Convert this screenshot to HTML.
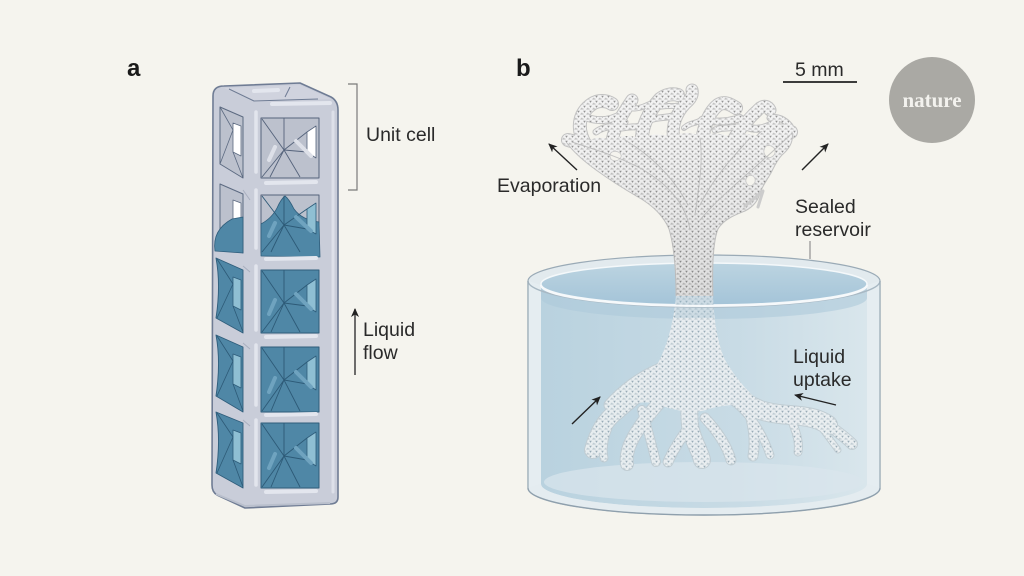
<!DOCTYPE html>
<html><head><meta charset="utf-8"><style>
html,body{margin:0;padding:0;background:#f5f4ee;}
svg{display:block;}
text{font-family:"Liberation Sans",sans-serif;fill:#2a2a2a;}
</style></head><body>
<svg width="1024" height="576" viewBox="0 0 1024 576" xmlns="http://www.w3.org/2000/svg">
<defs>
<pattern id="lat" width="6" height="5" patternUnits="userSpaceOnUse">
<rect width="6" height="5" fill="#f2f2f2"/>
<polygon points="1.2,0.8 3.8,0.8 2.5,2.9" fill="#939393"/>
<polygon points="4.2,4.5 5.5,2.4 6,4.5" fill="#b2b2b2"/>
<polygon points="0,4.5 0.8,2.8 1.7,4.5" fill="#b2b2b2"/>
</pattern>
<pattern id="latb" width="6" height="5" patternUnits="userSpaceOnUse">
<rect width="6" height="5" fill="#ebeff1"/>
<polygon points="1.2,0.8 3.8,0.8 2.5,2.9" fill="#95a8b3"/>
<polygon points="4.2,4.5 5.5,2.4 6,4.5" fill="#b2c0c8"/>
<polygon points="0,4.5 0.8,2.8 1.7,4.5" fill="#b2c0c8"/>
</pattern>
<linearGradient id="water" x1="0" y1="0" x2="1" y2="0">
<stop offset="0" stop-color="#b9d2df"/><stop offset="0.6" stop-color="#c8dbe5"/><stop offset="1" stop-color="#d9e6ec"/>
</linearGradient>
<linearGradient id="surf" x1="0" y1="0" x2="0" y2="1">
<stop offset="0" stop-color="#bcd4e1"/><stop offset="1" stop-color="#a4c4d8"/>
</linearGradient>
<linearGradient id="shade" x1="0" y1="0" x2="0" y2="1">
<stop offset="0" stop-color="#000" stop-opacity="0"/><stop offset="0.5" stop-color="#000" stop-opacity="0.04"/><stop offset="1" stop-color="#000" stop-opacity="0.09"/>
</linearGradient>
<marker id="ah" markerWidth="10" markerHeight="10" refX="8" refY="5" orient="auto" markerUnits="userSpaceOnUse">
<path d="M0,1 L9,5 L0,9 L2.5,5 Z" fill="#222"/>
</marker>
</defs>

<text x="127" y="76" style="font-size:24px;font-weight:bold;fill:#1a1a1a">a</text>
<text x="516" y="76" style="font-size:24px;font-weight:bold;fill:#1a1a1a">b</text>

<!-- ================= COLUMN ================= -->
<g stroke-linejoin="round">
<path d="M213,96 Q213,86 224,86 L300,83 L331,97 Q338,101 338,110 L338,497 Q338,504 330,504 L245,508 L217,495 Q212,492 212,485 Z" fill="#c9cdd9" stroke="#6f7c94" stroke-width="1.6"/>
<polygon points="224,88 300,85 331,99 255,102" fill="#d0d3de"/>
<path d="M229,89 L254,101 L318,99 M290,87 L285,97" stroke="#6f7c94" stroke-width="1" fill="none"/>
<path d="M254,91 L278,90 M272,104 L330,103" stroke="#e3e6ee" stroke-width="4" stroke-linecap="round"/>
<path d="M256,112 L256,172 M256,190 L256,248 M256,266 L256,330 M256,345 L256,405 M256,420 L256,485" stroke="#e2e5ed" stroke-width="3.5" stroke-linecap="round"/>
<path d="M333,112 L333,492" stroke="#dde0e9" stroke-width="3" stroke-linecap="round"/>
<path d="M243,190 L250,200 M243,266 L250,272 M243,343 L250,349 M243,420 L250,426" stroke="#a9afbf" stroke-width="1"/>

<g>
<polygon points="220,107 243,117 243,178 220,164" fill="#bcc1cd" stroke="#5c6a81" stroke-width="1"/>
<polygon points="233,123 241,126 241,156 233,152" fill="#ffffff" stroke="#5c6a81" stroke-width="0.8"/>
<path d="M220,107 L233,130 L220,164 M233,152 L243,178" stroke="#5c6a81" stroke-width="0.8" fill="none"/>
<rect x="261" y="118" width="58" height="60" fill="#bcc1cd" stroke="#55637b" stroke-width="1"/>
<polygon points="307,132 316,126 316,158 307,152" fill="#ffffff" stroke="#55637b" stroke-width="0.8"/>
<path d="M262,119 L284,150 L262,177 M284,118 L284,150 L307,132 M284,150 L307,152 M284,150 L270,177 M284,150 L300,177" stroke="#55637b" stroke-width="0.9" fill="none"/>
<path d="M269,160 L275,147 M296,141 L311,156" stroke="#dde0e8" stroke-width="4" stroke-linecap="round"/>
</g>
<path d="M266,183 L316,182" stroke="#e3e6ee" stroke-width="4" stroke-linecap="round"/>

<g>
<polygon points="220,184 243,194 243,253 220,239" fill="#bcc1cd" stroke="#5c6a81" stroke-width="1"/>
<polygon points="233,200 241,203 241,231 233,227" fill="#ffffff" stroke="#5c6a81" stroke-width="0.8"/>
<path d="M215,251 Q212,230 232,219 L243,217 L243,253 Z" fill="#4f87a6" stroke="#2f5d7b" stroke-width="0.8"/>
<rect x="261" y="195" width="58" height="58" fill="#bcc1cd" stroke="#55637b" stroke-width="1"/>
<path d="M261,253 L261,224 Q272,218 277,208 Q281,199 285,196 Q289,199 294,209 Q302,220 319,222 L320,257 L261,256 Z" fill="#4f87a6" stroke="#2f5d7b" stroke-width="0.8"/>
<polygon points="307,209 316,203 316,234 307,229" fill="#8fbfd3" stroke="#2f5d7b" stroke-width="0.8"/>
<path d="M262,196 L284,225 L262,252 M284,196 L284,225 L307,209 M284,225 L307,229 M284,225 L271,252 M284,225 L300,252" stroke="#2d5a77" stroke-width="0.9" fill="none"/>
<path d="M269,236 L275,223 M296,217 L311,231" stroke="#6fa3bf" stroke-width="4" stroke-linecap="round"/>
</g>
<path d="M266,259 L316,258" stroke="#e3e6ee" stroke-width="4" stroke-linecap="round"/>

<g>
<path d="M216,258 Q221,285 216,318 L243,333 L243,270 Z" fill="#4f87a6" stroke="#2f5d7b" stroke-width="0.9"/>
<polygon points="233,277 241,280 241,310 233,306" fill="#8fbfd3" stroke="#2f5d7b" stroke-width="0.8"/>
<path d="M217,259 L233,284 L217,318 M233,306 L243,332" stroke="#2d5a77" stroke-width="0.8" fill="none"/>
<rect x="261" y="270" width="58" height="63" fill="#4f87a6" stroke="#2f5d7b" stroke-width="1"/>
<polygon points="307,285 316,279 316,312 307,306" fill="#8fbfd3" stroke="#2f5d7b" stroke-width="0.8"/>
<path d="M262,271 L284,303 L262,332 M284,270 L284,303 L307,285 M284,303 L307,306 M284,303 L271,332 M284,303 L300,332" stroke="#2d5a77" stroke-width="0.9" fill="none"/>
<path d="M269,314 L275,300 M296,294 L311,309" stroke="#6fa3bf" stroke-width="4" stroke-linecap="round"/>
</g>
<path d="M266,337 L316,336" stroke="#e3e6ee" stroke-width="4" stroke-linecap="round"/>
<g>
<path d="M216,335 Q221,362 216,396 L243,412 L243,347 Z" fill="#4f87a6" stroke="#2f5d7b" stroke-width="0.9"/>
<polygon points="233,354 241,357 241,388 233,384" fill="#8fbfd3" stroke="#2f5d7b" stroke-width="0.8"/>
<path d="M217,336 L233,361 L217,396 M233,384 L243,411" stroke="#2d5a77" stroke-width="0.8" fill="none"/>
<rect x="261" y="347" width="58" height="65" fill="#4f87a6" stroke="#2f5d7b" stroke-width="1"/>
<polygon points="307,362 316,356 316,390 307,384" fill="#8fbfd3" stroke="#2f5d7b" stroke-width="0.8"/>
<path d="M262,348 L284,380 L262,411 M284,347 L284,380 L307,362 M284,380 L307,384 M284,380 L271,411 M284,380 L300,411" stroke="#2d5a77" stroke-width="0.9" fill="none"/>
<path d="M269,392 L275,378 M296,372 L311,387" stroke="#6fa3bf" stroke-width="4" stroke-linecap="round"/>
</g>
<path d="M266,415 L316,414" stroke="#e3e6ee" stroke-width="4" stroke-linecap="round"/>
<g>
<path d="M216,412 Q221,440 216,473 L243,488 L243,423 Z" fill="#4f87a6" stroke="#2f5d7b" stroke-width="0.9"/>
<polygon points="233,430 241,433 241,464 233,460" fill="#8fbfd3" stroke="#2f5d7b" stroke-width="0.8"/>
<path d="M217,413 L233,437 L217,473 M233,460 L243,487" stroke="#2d5a77" stroke-width="0.8" fill="none"/>
<rect x="261" y="423" width="58" height="65" fill="#4f87a6" stroke="#2f5d7b" stroke-width="1"/>
<polygon points="307,438 316,432 316,466 307,460" fill="#8fbfd3" stroke="#2f5d7b" stroke-width="0.8"/>
<path d="M262,424 L284,456 L262,487 M284,423 L284,456 L307,438 M284,456 L307,460 M284,456 L271,487 M284,456 L300,487" stroke="#2d5a77" stroke-width="0.9" fill="none"/>
<path d="M269,468 L275,454 M296,448 L311,463" stroke="#6fa3bf" stroke-width="4" stroke-linecap="round"/>
</g>
<path d="M266,492 L316,491" stroke="#e3e6ee" stroke-width="4" stroke-linecap="round"/>
<path d="M216,494 L245,506 L330,503" stroke="#b9bfcc" stroke-width="2" fill="none"/>
</g>

<path d="M348,84 L357,84 L357,190 L348,190" stroke="#7a7a7a" stroke-width="1.2" fill="none"/>
<text x="366" y="141" style="font-size:19.5px">Unit cell</text>
<line x1="355" y1="375" x2="355" y2="309" stroke="#333" stroke-width="1.4" marker-end="url(#ah)"/>
<text x="363" y="336" style="font-size:19.5px">Liquid</text>
<text x="363" y="359" style="font-size:19.5px">flow</text>

<!-- ================= RESERVOIR back ================= -->
<path d="M528,281 A176,26 0 0 1 880,281 L880,488 A176,27 0 0 1 528,488 Z" fill="#e2eaee" stroke="#9aaab6" stroke-width="1.2"/>
<ellipse cx="704" cy="284" rx="163" ry="21" fill="url(#surf)" stroke="#f4f8fa" stroke-width="1.5"/>
<path d="M541,285 A163,21 0 0 0 867,285 L867,484 A163,24 0 0 1 541,484 Z" fill="url(#water)"/>
<path d="M541,285 A163,21 0 0 0 867,285 L867,298 A163,21 0 0 1 541,298 Z" fill="#adc9da" opacity="0.6"/>
<ellipse cx="704" cy="482" rx="160" ry="20" fill="#dae6ec" opacity="0.7"/>

<!-- ================= TREE crown ================= -->
<g stroke-linecap="round" stroke-linejoin="round">
<g fill="none" stroke="#c2c2c2">
<path d="M600,150 C588,145 575,142 568,140" stroke-width="14"/>
<path d="M584,142 C576,126 580,112 592,104 C598,100 606,100 612,104" stroke-width="14"/>
<path d="M612,142 C614,126 624,112 632,100" stroke-width="13"/>
<path d="M642,142 C641,126 650,110 660,99 C665,95 672,93 678,95" stroke-width="14"/>
<path d="M674,142 C671,126 676,112 688,101 C692,97 693,94 692,90" stroke-width="13"/>
<path d="M702,142 C704,126 709,112 718,105 C724,101 730,104 736,108" stroke-width="14"/>
<path d="M732,142 C740,128 749,118 760,108 C764,105 768,106 770,110" stroke-width="13"/>
<path d="M760,142 C768,132 778,128 791,132" stroke-width="14"/>
<path d="M588,118 C600,122 612,120 622,114" stroke-width="8"/>
<path d="M650,120 C660,116 668,119 677,114" stroke-width="7"/>
<path d="M702,120 C712,122 725,123 740,118" stroke-width="8"/>
<path d="M745,126 C755,131 765,129 776,122" stroke-width="8"/>
<path d="M622,128 C632,126 640,128 648,124" stroke-width="7"/>
<path d="M596,132 C605,125 615,128 625,122" stroke-width="7"/>
<path d="M655,108 C665,104 676,108 684,104" stroke-width="6"/>
<path d="M715,130 C725,126 735,130 745,124" stroke-width="7"/>
<path d="M770,118 C778,116 785,120 790,126" stroke-width="7"/>
<path d="M628,108 C638,110 645,106 652,103" stroke-width="6"/>
<path d="M684,128 C690,122 698,124 704,118" stroke-width="6"/>
</g>
<g fill="none" stroke="url(#lat)">
<path d="M600,150 C588,145 575,142 568,140" stroke-width="12"/>
<path d="M584,142 C576,126 580,112 592,104 C598,100 606,100 612,104" stroke-width="12"/>
<path d="M612,142 C614,126 624,112 632,100" stroke-width="11"/>
<path d="M642,142 C641,126 650,110 660,99 C665,95 672,93 678,95" stroke-width="12"/>
<path d="M674,142 C671,126 676,112 688,101 C692,97 693,94 692,90" stroke-width="11"/>
<path d="M702,142 C704,126 709,112 718,105 C724,101 730,104 736,108" stroke-width="12"/>
<path d="M732,142 C740,128 749,118 760,108 C764,105 768,106 770,110" stroke-width="11"/>
<path d="M760,142 C768,132 778,128 791,132" stroke-width="12"/>
<path d="M588,118 C600,122 612,120 622,114" stroke-width="6"/>
<path d="M650,120 C660,116 668,119 677,114" stroke-width="5"/>
<path d="M702,120 C712,122 725,123 740,118" stroke-width="6"/>
<path d="M745,126 C755,131 765,129 776,122" stroke-width="6"/>
<path d="M622,128 C632,126 640,128 648,124" stroke-width="5"/>
<path d="M596,132 C605,125 615,128 625,122" stroke-width="5"/>
<path d="M655,108 C665,104 676,108 684,104" stroke-width="4"/>
<path d="M715,130 C725,126 735,130 745,124" stroke-width="5"/>
<path d="M770,118 C778,116 785,120 790,126" stroke-width="5"/>
<path d="M628,108 C638,110 645,106 652,103" stroke-width="4"/>
<path d="M684,128 C690,122 698,124 704,118" stroke-width="4"/>
</g>
<path d="M676,296 C676,270 674,246 669,229 C663,215 652,205 638,197 C624,189 610,180 596,170 C585,162 574,153 567,143 C572,140 582,138 590,140 C598,136 606,138 614,140 C622,134 632,136 642,138 C650,133 662,134 672,137 C680,132 692,132 702,136 C712,131 722,134 732,137 C742,132 752,134 760,137 C770,131 782,129 792,132 C794,141 789,149 782,155 C777,160 774,167 771,173 C767,180 762,187 760,193 C758,201 753,207 745,211 C735,215 724,219 718,229 C713,242 712,265 713,296 Z" fill="url(#lat)"/>
<path d="M676,296 C676,270 674,246 669,229 C663,215 652,205 638,197 C624,189 610,180 596,170 C585,162 574,153 567,143 M792,132 C794,141 789,149 782,155 C777,160 774,167 771,173 C767,180 762,187 760,193 C758,201 753,207 745,211 C735,215 724,219 718,229 C713,242 712,265 713,296" fill="none" stroke="#c2c2c2" stroke-width="1"/>
<path d="M676,296 C676,270 674,246 669,229 C663,215 652,205 638,197 C624,189 610,180 596,170 C585,162 574,153 567,143 C580,140 620,136 680,134 C740,134 780,130 792,132 C794,141 789,149 782,155 C777,160 774,167 771,173 C767,180 762,187 760,193 C758,201 753,207 745,211 C735,215 724,219 718,229 C713,242 712,265 713,296 Z" fill="url(#shade)"/>
<g fill="#f5f4ee" stroke="#c8c8c8" stroke-width="0.8">
<path d="M766,146 C771,144 776,148 775,153 C773,158 768,159 765,155 C763,152 764,148 766,146 Z"/>
<path d="M612,152 C617,150 622,153 621,157 C619,161 614,162 611,159 C609,156 610,153 612,152 Z"/>
<path d="M748,176 C752,174 756,177 755,182 C753,186 749,187 747,184 C745,181 746,178 748,176 Z"/>
</g>
<path d="M745,206 L763,191 L758,207" fill="none" stroke="#cccccc" stroke-width="3"/>
<g fill="none" stroke="#b8b8b8" stroke-width="1" opacity="0.8">
<path d="M690,230 C686,205 670,185 640,168 C615,155 590,148 572,142"/>
<path d="M695,215 C700,180 703,160 700,138"/>
<path d="M700,220 C725,190 760,165 790,135"/>
<path d="M688,205 C672,175 650,155 625,140"/>
<path d="M700,205 C715,175 735,155 750,138"/>
</g>
</g>

<!-- ================= ROOTS underwater ================= -->
<g opacity="0.93" stroke-linecap="round" stroke-linejoin="round">
<g fill="none" stroke="#c0ccd2">
<path d="M705,355 C720,385 735,400 760,410 C785,418 810,412 828,425" stroke-width="20"/>
<path d="M828,425 C838,432 846,438 852,444" stroke-width="12"/>
<path d="M748,406 C753,425 756,440 753,456" stroke-width="11"/>
<path d="M790,415 C795,430 800,440 798,452" stroke-width="9"/>
<path d="M690,360 C690,385 688,405 690,425 C692,440 700,450 702,460" stroke-width="18"/>
<path d="M690,425 C680,440 672,452 668,462" stroke-width="11"/>
<path d="M705,418 C718,432 727,446 731,460" stroke-width="11"/>
<path d="M672,362 C655,380 635,395 618,410 C605,420 598,432 593,450" stroke-width="18"/>
<path d="M682,375 C662,400 642,420 632,440 C627,450 626,458 627,464" stroke-width="14"/>
<path d="M642,410 C648,430 652,445 656,462" stroke-width="10"/>
<path d="M614,415 C606,430 601,445 604,458" stroke-width="9"/>
<path d="M668,366 C650,372 628,385 610,405" stroke-width="13"/>
<path d="M730,398 C745,410 760,425 770,455" stroke-width="9"/>
<path d="M815,420 C825,432 832,442 838,450" stroke-width="7"/>
</g>
<g fill="none" stroke="url(#latb)">
<path d="M705,355 C720,385 735,400 760,410 C785,418 810,412 828,425" stroke-width="18"/>
<path d="M828,425 C838,432 846,438 852,444" stroke-width="10"/>
<path d="M748,406 C753,425 756,440 753,456" stroke-width="9"/>
<path d="M790,415 C795,430 800,440 798,452" stroke-width="7"/>
<path d="M690,360 C690,385 688,405 690,425 C692,440 700,450 702,460" stroke-width="16"/>
<path d="M690,425 C680,440 672,452 668,462" stroke-width="9"/>
<path d="M705,418 C718,432 727,446 731,460" stroke-width="9"/>
<path d="M672,362 C655,380 635,395 618,410 C605,420 598,432 593,450" stroke-width="16"/>
<path d="M682,375 C662,400 642,420 632,440 C627,450 626,458 627,464" stroke-width="12"/>
<path d="M642,410 C648,430 652,445 656,462" stroke-width="8"/>
<path d="M614,415 C606,430 601,445 604,458" stroke-width="7"/>
<path d="M668,366 C650,372 628,385 610,405" stroke-width="11"/>
<path d="M730,398 C745,410 760,425 770,455" stroke-width="7"/>
<path d="M815,420 C825,432 832,442 838,450" stroke-width="5"/>
</g>
<path d="M676,296 L713,296 C714,320 717,340 724,358 C734,376 746,390 758,400 C740,406 722,404 706,410 C690,414 672,410 657,404 C642,400 630,404 619,410 C630,394 647,380 657,365 C668,345 674,320 676,296 Z" fill="url(#latb)"/>
<path d="M676,296 L713,296 L714,318 L675,318 Z" fill="#9dbccd" opacity="0.35"/>
</g>

<!-- ================= RESERVOIR front ================= -->
<path d="M528,281 L541,285 L541,484 L528,488 Z" fill="#e6edf1" opacity="0.8"/>
<path d="M880,281 L867,285 L867,484 L880,488 Z" fill="#e6edf1" opacity="0.8"/>
<path d="M528,281 A176,26 0 0 0 880,281" stroke="#a8b8c3" stroke-width="1.4" fill="none"/>
<path d="M541,285 A163,21 0 0 0 867,285" stroke="#f6f9fb" stroke-width="2" fill="none"/>
<path d="M541,484 A163,24 0 0 0 867,484 L880,488 A176,27 0 0 1 528,488 Z" fill="#e4ecf0"/>
<path d="M528,488 A176,27 0 0 0 880,488" stroke="#8fa0ad" stroke-width="1.4" fill="none"/>
<line x1="528" y1="281" x2="528" y2="488" stroke="#9aaab6" stroke-width="1.2"/>
<line x1="880" y1="281" x2="880" y2="488" stroke="#9aaab6" stroke-width="1.2"/>

<text x="795" y="76" style="font-size:19.5px">5 mm</text>
<line x1="783" y1="82" x2="857" y2="82" stroke="#222" stroke-width="1.8"/>
<circle cx="932" cy="100" r="43" fill="#aaa9a4"/>
<text x="932" y="107" text-anchor="middle" style="font-family:'Liberation Serif',serif;font-size:21px;font-weight:bold;fill:#f3f2ee">nature</text>

<text x="497" y="192" style="font-size:19.5px">Evaporation</text>
<line x1="577" y1="170" x2="549" y2="144" stroke="#222" stroke-width="1.4" marker-end="url(#ah)"/>
<line x1="802" y1="170" x2="828" y2="144" stroke="#222" stroke-width="1.4" marker-end="url(#ah)"/>
<text x="795" y="213" style="font-size:19.5px">Sealed</text>
<text x="795" y="236" style="font-size:19.5px">reservoir</text>
<line x1="810" y1="241" x2="810" y2="259" stroke="#888" stroke-width="1.1"/>
<text x="793" y="363" style="font-size:19.5px">Liquid</text>
<text x="793" y="386" style="font-size:19.5px">uptake</text>
<line x1="836" y1="405" x2="795" y2="395" stroke="#222" stroke-width="1.4" marker-end="url(#ah)"/>
<line x1="572" y1="424" x2="600" y2="397" stroke="#222" stroke-width="1.4" marker-end="url(#ah)"/>
</svg>
</body></html>
